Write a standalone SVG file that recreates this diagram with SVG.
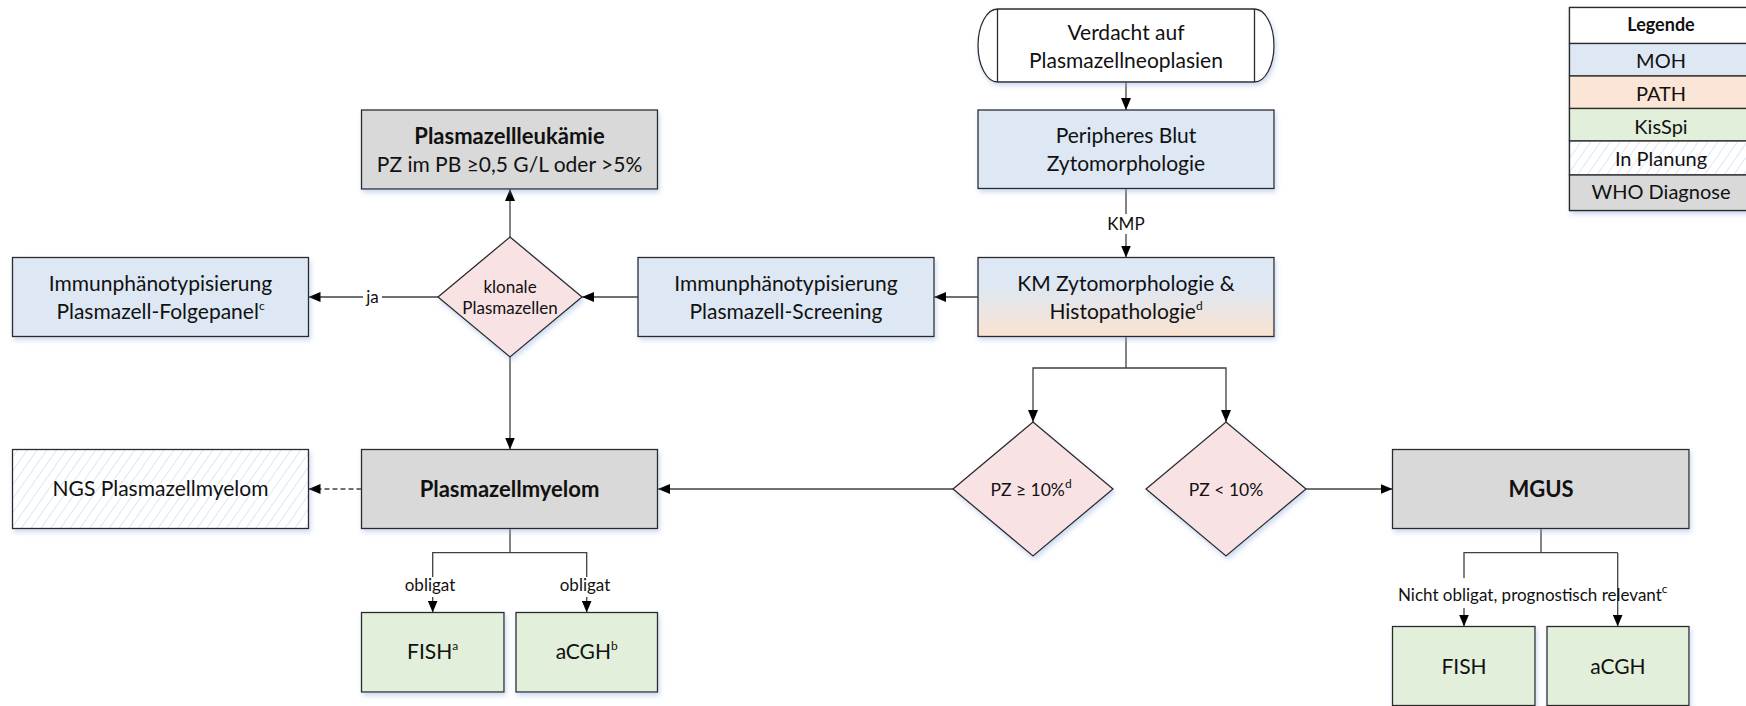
<svg xmlns="http://www.w3.org/2000/svg" width="1746" height="706" viewBox="0 0 1746 706">
  <defs>
    <style>
      .box { stroke:#2b2b2b; stroke-width:1.3; filter:url(#sh); }
      .moh { fill:#dde8f4; }
      .path { fill:#fbe5d6; }
      .who { fill:#d9d9d9; }
      .kis { fill:#e2efda; }
      .dec { fill:#f9e2e4; }
      .plan { fill:url(#hatch); }
      .t { font-family:Lato, "Open Sans", "Liberation Sans", sans-serif; font-size:21px; fill:#111; text-anchor:middle; }
      .b { font-weight:bold; font-size:22px; }
      .s { font-size:17px; }
      .sup { font-size:12px; }
      .c { fill:none; stroke:#404040; stroke-width:1.3; }
      .arr { marker-end:url(#ah); }
      .dash { stroke-dasharray:5 3; }
      .lg { stroke:#2b2b2b; stroke-width:1.3; }
    </style>
    <marker id="ah" viewBox="0 0 12 10" refX="12" refY="5" markerWidth="12" markerHeight="10" markerUnits="userSpaceOnUse" orient="auto">
      <path d="M0,0 L12,5 L0,10 z" fill="#000"/>
    </marker>
    <pattern id="hatch" width="8" height="8" patternUnits="userSpaceOnUse" patternTransform="rotate(35)">
      <rect width="8" height="8" fill="#fff"/>
      <line x1="0" y1="0" x2="0" y2="8" stroke="#c6d8ef" stroke-width="1.2"/>
    </pattern>
    <linearGradient id="kmgrad" x1="0" y1="0" x2="0" y2="1">
      <stop offset="0" stop-color="#dde8f4"/>
      <stop offset="0.35" stop-color="#dde8f4"/>
      <stop offset="1" stop-color="#fae2d0"/>
    </linearGradient>
    <filter id="sh" x="-10%" y="-10%" width="125%" height="135%">
      <feDropShadow dx="1.5" dy="3" stdDeviation="2.5" flood-color="#8eaadb" flood-opacity="0.45"/>
    </filter>
  </defs>

  <rect width="1746" height="706" fill="#fff"/>

  <!-- connectors -->
  <g id="connectors">
    <line class="c arr" x1="1126" y1="82" x2="1126" y2="110"/>
    <line class="c" x1="1126" y1="188.5" x2="1126" y2="214"/>
    <line class="c arr" x1="1126" y1="234" x2="1126" y2="257.5"/>
    <text class="t s" x="1126" y="230">KMP</text>

    <line class="c arr" x1="978" y1="297" x2="934" y2="297"/>
    <line class="c arr" x1="638" y1="297" x2="582" y2="297"/>
    <line class="c" x1="438" y1="297" x2="382" y2="297"/>
    <line class="c arr" x1="363" y1="297" x2="308.5" y2="297"/>
    <text class="t s" x="372.5" y="303">ja</text>

    <line class="c arr" x1="510" y1="237" x2="510" y2="189"/>
    <line class="c arr" x1="510" y1="357" x2="510" y2="449.5"/>
    <line class="c dash arr" x1="361.5" y1="489" x2="308.5" y2="489"/>

    <polyline class="c" points="510,528.5 510,552.7"/>
    <polyline class="c" points="432.7,577 432.7,552.7 586.7,552.7 586.7,577"/>
    <line class="c arr" x1="432.7" y1="597" x2="432.7" y2="612.5"/>
    <line class="c arr" x1="586.7" y1="597" x2="586.7" y2="612.5"/>
    <text class="t s" x="430" y="591">obligat</text>
    <text class="t s" x="585" y="591">obligat</text>

    <polyline class="c" points="1126,336.5 1126,368"/>
    <polyline class="c arr" points="1126,368 1033,368 1033,422"/>
    <polyline class="c arr" points="1126,368 1226,368 1226,422"/>

    <line class="c arr" x1="953" y1="489" x2="658" y2="489"/>
    <line class="c arr" x1="1306" y1="489" x2="1392.5" y2="489"/>

    <polyline class="c" points="1541,528.5 1541,552.7"/>
    <polyline class="c" points="1464,578 1464,552.7 1617.7,552.7"/>
    <line class="c arr" x1="1464" y1="608" x2="1464" y2="626.5"/>
    <line class="c arr" x1="1617.7" y1="552.7" x2="1617.7" y2="626.5"/>
    <text class="t s" x="1398" y="601" style="text-anchor:start">Nicht obligat, prognostisch relevant<tspan class="sup" dy="-8">c</tspan></text>
  </g>

  <!-- start: terminator -->
  <g id="start">
    <path class="box" d="M997.5,9 H1254.5 A19.5,36.5 0 0 1 1254.5,82 H997.5 A19.5,36.5 0 0 1 997.5,9 Z" fill="#fff"/>
    <line class="lg" x1="997.5" y1="9" x2="997.5" y2="82"/>
    <line class="lg" x1="1254.5" y1="9" x2="1254.5" y2="82"/>
    <text class="t" x="1126" y="39.5">Verdacht auf</text>
    <text class="t" x="1126" y="68">Plasmazellneoplasien</text>
  </g>

  <g id="pb">
    <rect class="box moh" x="978" y="110" width="296" height="78.5"/>
    <text class="t" x="1126" y="142.5">Peripheres Blut</text>
    <text class="t" x="1126" y="170.5">Zytomorphologie</text>
  </g>

  <g id="km">
    <rect class="box" x="978" y="257.5" width="296" height="79" fill="url(#kmgrad)"/>
    <text class="t" x="1126" y="290.5">KM Zytomorphologie &amp;</text>
    <text class="t" x="1126" y="319">Histopathologie<tspan class="sup" dy="-9">d</tspan></text>
  </g>

  <g id="screening">
    <rect class="box moh" x="638" y="257.5" width="296" height="79"/>
    <text class="t" x="786" y="290.5">Immunphänotypisierung</text>
    <text class="t" x="786" y="319">Plasmazell-Screening</text>
  </g>

  <g id="klonal">
    <polygon class="box dec" points="510,237 582,297 510,357 438,297"/>
    <text class="t s" x="510" y="292.5">klonale</text>
    <text class="t s" x="510" y="314">Plasmazellen</text>
  </g>

  <g id="folgepanel">
    <rect class="box moh" x="12.5" y="257.5" width="296" height="79"/>
    <text class="t" x="160.5" y="290.5">Immunphänotypisierung</text>
    <text class="t" x="160.5" y="319">Plasmazell-Folgepanel<tspan class="sup" dy="-9">c</tspan></text>
  </g>

  <g id="leukaemie">
    <rect class="box who" x="361.5" y="110" width="296" height="79"/>
    <text class="t b" x="509.5" y="144">Plasmazellleukämie</text>
    <text class="t" x="509.5" y="172">PZ im PB ≥0,5 G/L oder &gt;5%</text>
  </g>

  <g id="myelom">
    <rect class="box who" x="361.5" y="449.5" width="296" height="79"/>
    <text class="t b" x="509.5" y="496.5">Plasmazellmyelom</text>
  </g>

  <g id="ngs">
    <rect class="box plan" x="12.5" y="449.5" width="296" height="79"/>
    <text class="t" x="160.5" y="496">NGS Plasmazellmyelom</text>
  </g>

  <g id="fish-pm">
    <rect class="box kis" x="361.5" y="612.5" width="142.5" height="79.5"/>
    <text class="t" x="432.7" y="659">FISH<tspan class="sup" dy="-9">a</tspan></text>
  </g>

  <g id="acgh-pm">
    <rect class="box kis" x="516" y="612.5" width="141.5" height="79.5"/>
    <text class="t" x="586.7" y="659">aCGH<tspan class="sup" dy="-9">b</tspan></text>
  </g>

  <g id="pz-high">
    <polygon class="box dec" points="1033,422 1113,489 1033,556 953,489"/>
    <text class="t" x="1031" y="495.5" style="font-size:17.5px">PZ ≥ 10%<tspan class="sup" dy="-8">d</tspan></text>
  </g>

  <g id="pz-low">
    <polygon class="box dec" points="1226,422 1306,489 1226,556 1146,489"/>
    <text class="t" x="1226" y="495.5" style="font-size:17.5px">PZ &lt; 10%</text>
  </g>

  <g id="mgus">
    <rect class="box who" x="1392.5" y="449.5" width="296.5" height="79"/>
    <text class="t b" x="1541" y="496.5">MGUS</text>
  </g>

  <g id="fish-mgus">
    <rect class="box kis" x="1392.5" y="626.5" width="142.5" height="79"/>
    <text class="t" x="1464" y="674">FISH</text>
  </g>

  <g id="acgh-mgus">
    <rect class="box kis" x="1547" y="626.5" width="142" height="79"/>
    <text class="t" x="1618" y="674">aCGH</text>
  </g>

  <!-- legend table -->
  <g id="legend">
    <rect class="box" x="1569.5" y="7.5" width="183" height="203" fill="#fff"/>
    <rect class="lg" x="1569.5" y="7.5" width="183" height="36" fill="#fff"/>
    <rect class="lg moh" x="1569.5" y="43.5" width="183" height="32.5"/>
    <rect class="lg path" x="1569.5" y="76" width="183" height="32.5"/>
    <rect class="lg kis" x="1569.5" y="108.5" width="183" height="32.5"/>
    <rect class="lg plan" x="1569.5" y="141" width="183" height="34"/>
    <rect class="lg who" x="1569.5" y="175" width="183" height="35.5"/>
    <text class="t b" x="1661" y="30.5" style="font-size:18px">Legende</text>
    <text class="t" x="1661" y="68" style="font-size:20px">MOH</text>
    <text class="t" x="1661" y="101" style="font-size:20px">PATH</text>
    <text class="t" x="1661" y="133.5" style="font-size:20px">KisSpi</text>
    <text class="t" x="1661" y="165.5" style="font-size:20px">In Planung</text>
    <text class="t" x="1661" y="199" style="font-size:20px">WHO Diagnose</text>
  </g>
</svg>
